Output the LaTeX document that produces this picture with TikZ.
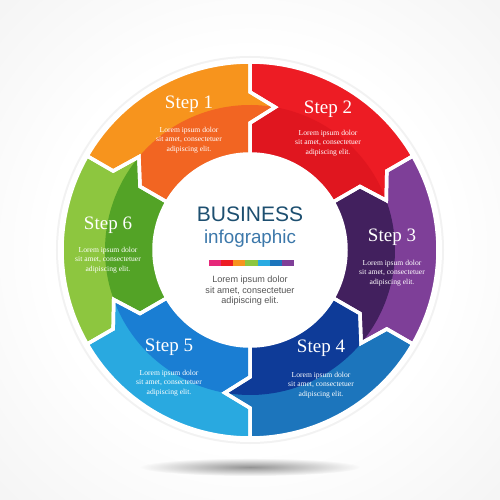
\documentclass[tikz,border=0pt]{standalone}
\usepackage{fontspec}
\usetikzlibrary{fadings}
\setmainfont{Liberation Serif}
\newfontfamily\arialf{Liberation Sans}
\definecolor{s1l}{HTML}{F7941D}\definecolor{s1d}{HTML}{F26522}
\definecolor{s2l}{HTML}{ED1C24}\definecolor{s2d}{HTML}{E0161F}
\definecolor{s3l}{HTML}{7E3F98}\definecolor{s3d}{HTML}{42205E}
\definecolor{s4l}{HTML}{1C75BC}\definecolor{s4d}{HTML}{0E3B98}
\definecolor{s5l}{HTML}{29A9E0}\definecolor{s5d}{HTML}{1A7ED3}
\definecolor{s6l}{HTML}{8DC63F}\definecolor{s6d}{HTML}{53A326}
\definecolor{bizblue}{HTML}{1D4F70}
\definecolor{infoblue}{HTML}{3C78AA}
\definecolor{desc}{HTML}{555555}
\definecolor{b1}{HTML}{E6287A}\definecolor{b2}{HTML}{ED1C24}
\definecolor{b3}{HTML}{F7931E}\definecolor{b4}{HTML}{8DC63F}
\definecolor{b5}{HTML}{29ABE2}\definecolor{b6}{HTML}{1C75BC}
\definecolor{b7}{HTML}{7F3F98}
\pgfdeclareradialshading{bgrad}{\pgfpoint{0bp}{0bp}}{color(0bp)=(white); color(20bp)=(white); color(50bp)=(black!8); color(72bp)=(black!12)}
\tikzfading[name=softshadow, inner color=transparent!0, outer color=transparent!100]
\def\Ro{188pt}\def\Rb{158pt}\def\Rt{145pt}\def\Ra{127pt}\def\Ri{96pt}
\newcommand{\segpath}[1]{(#1:\Ro) arc[start angle=#1, end angle=#1-60, radius=\Ro] -- (#1-60:\Rb) -- (#1-70:\Rt) -- (#1-60:\Ra) -- (#1-60:\Ri) arc[start angle=#1-60, end angle=#1, radius=\Ri] -- (#1:\Ra) -- (#1-10:\Rt) -- (#1:\Rb) -- cycle}
\newcommand{\darkpath}[1]{(#1-10:\Rt) arc[start angle=#1-10, end angle=#1-70, radius=\Rt] -- (#1-60:\Ra) -- (#1-60:\Ri) arc[start angle=#1-60, end angle=#1, radius=\Ri] -- (#1:\Ra) -- cycle}
\begin{document}
\begin{tikzpicture}[x=1pt,y=1pt,
  steptitle/.style={text=white, inner sep=0pt, anchor=base, font=\fontsize{19}{19}\selectfont},
  stepdesc/.style={text=white, inner sep=0pt, align=center, font=\fontsize{7.6}{9.3}\selectfont},
  gap/.style={white, line width=3.5pt, line join=miter}]
\useasboundingbox (-250,-250) rectangle (250,250);
\shade[shading=bgrad] (-250,-250) rectangle (250,250);
\fill[black!42, path fading=softshadow] (0,-217) ellipse[x radius=110, y radius=9];
\fill[black!5] (0,0) circle[radius=194pt];
\fill[white] (0,0) circle[radius=192pt];
\foreach \a/\lc/\dc in {150/s1l/s1d, 90/s2l/s2d, 30/s3l/s3d, -30/s4l/s4d, -90/s5l/s5d, -150/s6l/s6d} {
  \fill[\lc] \segpath{\a};
  \fill[\dc] \darkpath{\a};
}
\foreach \a in {150,90,30,-30,-90,-150} {
  \draw[gap] \segpath{\a};
}
\fill[white] (0,0) circle[radius=97pt];
% step labels
\node[steptitle] (t1) at (-61,141) {Step 1};
\node[stepdesc] (d1) at (-61,110) {Lorem ipsum dolor\\sit amet, consectetuer\\adipiscing elit.};
\node[steptitle] (t2) at (78,136) {Step 2};
\node[stepdesc] (d2) at (78,107) {Lorem ipsum dolor\\sit amet, consectetuer\\adipiscing elit.};
\node[steptitle] (t3) at (142,8) {Step 3};
\node[stepdesc] (d3) at (142,-23) {Lorem ipsum dolor\\sit amet, consectetuer\\adipiscing elit.};
\node[steptitle] (t4) at (71,-102) {Step 4};
\node[stepdesc] (d4) at (71,-135) {Lorem ipsum dolor\\sit amet, consectetuer\\adipiscing elit.};
\node[steptitle] (t5) at (-81,-101) {Step 5};
\node[stepdesc] (d5) at (-81,-133) {Lorem ipsum dolor\\sit amet, consectetuer\\adipiscing elit.};
\node[steptitle] (t6) at (-142,20) {Step 6};
\node[stepdesc] (d6) at (-142,-10) {Lorem ipsum dolor\\sit amet, consectetuer\\adipiscing elit.};
% centre
\node[anchor=base, inner sep=0pt, text=bizblue, font=\arialf\fontsize{21}{21}\selectfont] (biz) at (0,28.5) {BUSINESS};
\node[anchor=base, inner sep=0pt, text=infoblue, font=\arialf\fontsize{18.8}{19}\selectfont] (info) at (0,6) {infographic};
\foreach \c [count=\i from 0] in {b1,b2,b3,b4,b5,b6,b7} {
  \fill[\c] (-41+\i*12.14,-16) rectangle (-41+\i*12.14+12.14,-10);
}
\node[inner sep=0pt, align=center, text=desc, font=\arialf\fontsize{9.1}{10.5}\selectfont] (cd) at (0,-41) {Lorem ipsum dolor\\sit amet, consectetuer\\adipiscing elit.};
\end{tikzpicture}
\end{document}
